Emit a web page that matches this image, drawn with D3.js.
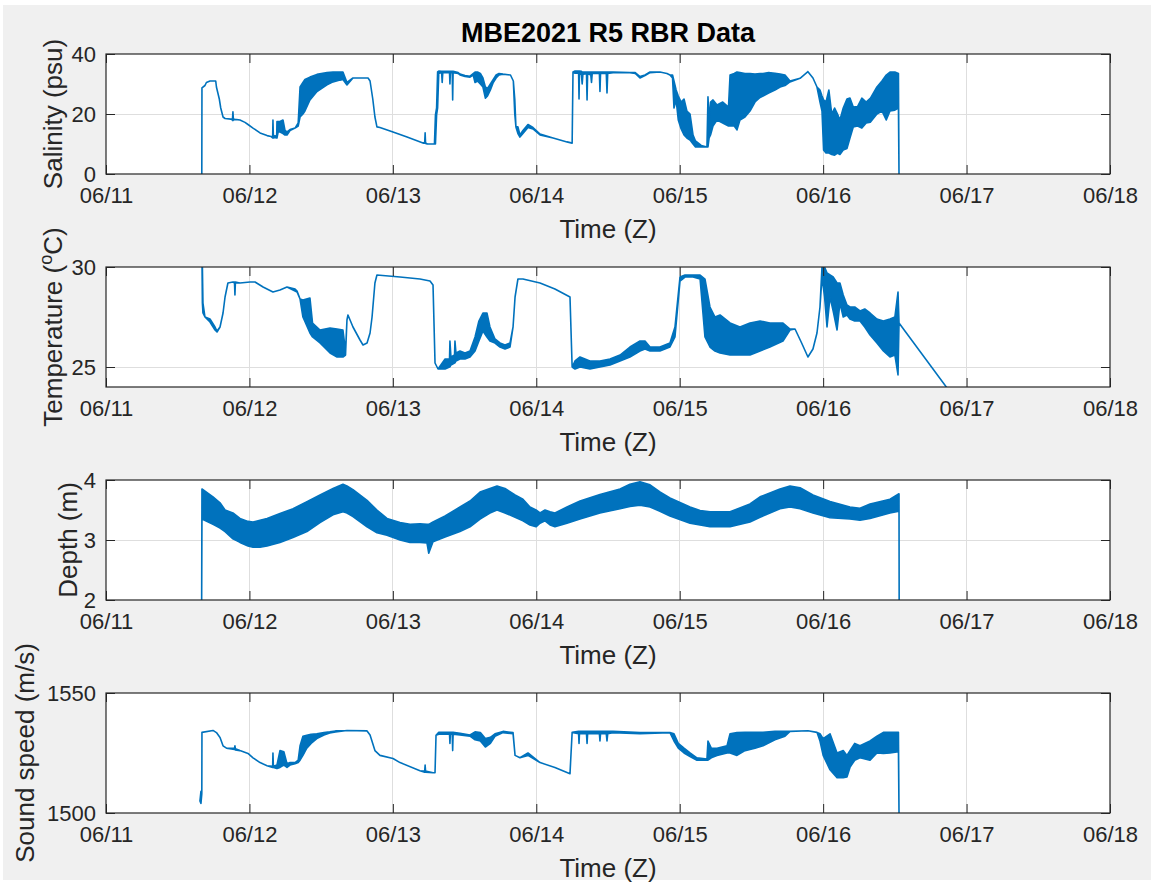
<!DOCTYPE html>
<html>
<head>
<meta charset="utf-8">
<script src="https://cdn.jsdelivr.net/npm/d3@7"></script>
<style>
  body { margin: 0; background: #fff; }
  svg { display: block; }
  text { font-family: "Liberation Sans", Arial, Helvetica, sans-serif; }
</style>
</head>
<body>
<svg id="fig" width="1151" height="882"></svg>
<script>
// Each record: [days after 2021-06-11 00:00 Z, min reading, max reading] over that interval
const salinity = [
  [0.668,0,0],[0.669,28.7,28.7],[0.690,29.5,29.5],[0.700,30.5,30.5],[0.725,31,31],[0.765,31,31],
  [0.770,29,29],[0.780,27,27],[0.790,25,25],[0.800,22,22],[0.816,19,19],[0.830,18.5,18.5],
  [0.870,18.3,18.3],[0.882,18,18.3],[0.885,17.8,20.7],[0.888,18,18.3],[0.900,18.2,18.2],[0.934,18,18],
  [0.969,17.2,17.2],[0.990,16.5,16.5],[1.025,15.3,15.3],[1.074,13.7,13.7],[1.123,12.8,12.8],
  [1.150,12.5,12.5],[1.162,12,12.5],[1.164,12,18],[1.167,12,12.5],[1.178,12.2,12.8],[1.190,12,12.5],
  [1.192,12,17.5],[1.200,14,17.5],[1.213,14,17.5],[1.234,13.5,18],[1.248,13,14.5],[1.262,13,14],
  [1.283,14.5,14.8],[1.318,15.3,15.3],[1.340,16,17],[1.353,19,29],[1.373,20,30.5],[1.387,21,31.5],
  [1.422,24.7,32.3],[1.471,27.5,33.2],[1.541,29.7,33.8],[1.583,30.7,34],[1.631,31.3,34],
  [1.652,31.5,34],[1.680,29.7,30.5],[1.722,32,32],[1.827,32,32],[1.841,31,31],[1.860,25,25],
  [1.875,19,19],[1.889,15.7,15.7],[1.910,15.5,15.5],[2.001,14,14],[2.099,12.3,12.3],[2.210,10.3,10.3],
  [2.222,10.3,10.5],[2.225,10.3,13.7],[2.228,10.2,10.4],[2.240,10,10],[2.290,10,10],[2.297,10,19.7],
  [2.305,19.7,22],[2.312,22,34],[2.320,33.5,34.3],[2.340,33.8,34.2],[2.344,30.5,34.2],[2.348,33.8,34.2],
  [2.395,33.8,34.2],[2.398,30,34.2],[2.401,33.8,34.2],[2.414,33.8,34.2],[2.417,24.7,34.2],
  [2.420,33.8,34.2],[2.455,33.5,33.8],[2.468,33,33.3],[2.503,32.5,32.8],[2.538,32.3,32.6],
  [2.560,33,33.5],[2.573,30.5,34],[2.590,31,34],[2.610,30,33.5],[2.628,29,32],[2.645,25.3,29],
  [2.660,26,28.5],[2.680,28,30],[2.700,30.5,31.5],[2.720,32,33],[2.740,33,33.5],[2.768,33.3,33.3],
  [2.820,33,33],[2.840,31,31],[2.850,20,25],[2.858,15.7,15.7],[2.872,13.5,15.7],[2.886,12.3,13],
  [2.907,13.5,14.5],[2.942,15.5,16.5],[2.977,15,15.5],[3.026,13,13.3],[3.117,12,12],[3.214,10.7,10.7],
  [3.250,10.3,10.3],[3.256,34,34],[3.270,33.6,34.3],[3.295,33.6,34.3],[3.298,25,34.3],[3.301,33.6,34.3],
  [3.315,33,34.2],[3.320,30,34],[3.325,33.2,34],[3.350,33.5,34],[3.354,24.7,34],[3.358,33.5,34],
  [3.380,33,34],[3.385,30.5,34],[3.390,33.5,34],[3.440,33.5,34],[3.444,27.5,34],[3.448,33.5,34],
  [3.488,33.5,34],[3.493,27,34],[3.498,33.5,34],[3.535,33.8,34],[3.653,33.8,33.8],[3.690,33.5,33.8],
  [3.723,32,32.5],[3.758,32.8,33],[3.793,33.8,34],[3.862,34,34],[3.911,33.5,33.5],[3.932,33,33],
  [3.950,32,33],[3.960,22,31],[3.975,24.7,28],[3.990,18,26],[4.010,15,24],[4.030,13,25],[4.050,12,21],
  [4.072,11.3,20],[4.093,10,13],[4.110,9,11],[4.150,9,9.5],[4.190,9,9],[4.197,9,25.7],[4.205,12,18],
  [4.215,13,24],[4.232,16,24.7],[4.260,18,23],[4.300,17,24],[4.340,16,22.3],[4.351,16,33],
  [4.380,16,33.5],[4.399,14.7,34],[4.420,18,33.8],[4.455,19,33.5],[4.490,21,33.5],[4.525,24,33.3],
  [4.560,25.5,33.5],[4.581,26,33.5],[4.620,27,33.8],[4.664,28,33.6],[4.700,29,33.3],[4.734,29.5,33],
  [4.769,30.7,31],[4.839,31.9,31.9],[4.894,34.1,34.1],[4.929,32,32],[4.957,29,29],[4.978,24,28],
  [4.992,21,26],[5.003,8,24.7],[5.020,7,24],[5.040,7,28],[5.060,6.5,20],[5.080,6.3,22],[5.100,7,20],
  [5.117,6.5,18],[5.140,8,22],[5.166,8.5,25],[5.187,12,25.3],[5.210,15.7,22.3],[5.240,16,22.5],
  [5.270,15.3,25.3],[5.300,17,24],[5.330,17.3,25.3],[5.375,20,29],[5.410,21,31],[5.440,18,33],
  [5.466,21,34],[5.500,21.3,34],[5.525,22,33.5],[5.529,0,0]
];

const temperature = [
  [0.668,31,31],[0.669,30.5,30.5],[0.672,28.2,30],[0.676,27.7,28.2],[0.690,27.5,27.5],[0.725,27.25,27.4],
  [0.760,26.85,27],[0.774,26.75,26.8],[0.795,27,27],[0.816,27.7,27.7],[0.830,28.5,28.5],[0.850,29.2,29.2],
  [0.885,29.25,29.25],[0.896,29.2,29.25],[0.899,28.6,29.2],[0.902,29.2,29.25],[0.934,29.2,29.2],
  [1.004,29.25,29.25],[1.039,29.25,29.25],[1.095,29.0,29.0],[1.164,28.75,28.75],[1.213,28.85,28.85],
  [1.262,29.0,29.0],[1.318,28.8,28.9],[1.332,28.75,28.8],[1.353,28.4,28.4],[1.373,27.5,28.35],
  [1.422,26.7,28.45],[1.440,26.5,27.2],[1.492,26.2,26.85],[1.562,25.7,26.95],[1.611,25.5,26.9],
  [1.652,25.5,26.85],[1.670,25.6,25.8],[1.680,27.35,27.35],[1.687,27.6,27.6],[1.722,27,27],
  [1.771,26.35,26.35],[1.792,26.1,26.1],[1.820,26.2,26.2],[1.841,26.7,26.7],[1.855,27.5,27.5],
  [1.875,29.2,29.2],[1.889,29.6,29.6],[2.050,29.5,29.5],[2.189,29.4,29.4],[2.259,29.3,29.3],
  [2.280,29.1,29.1],[2.294,25.2,25.2],[2.315,24.9,24.9],[2.364,24.9,25.4],[2.395,25,25.4],
  [2.398,25,26.3],[2.405,25.1,25.5],[2.430,25.2,25.6],[2.433,25.2,26.3],[2.440,25.3,25.7],
  [2.468,25.4,25.8],[2.503,25.4,25.7],[2.538,25.5,25.8],[2.573,25.8,26.5],[2.600,26.3,27.3],
  [2.628,26.8,27.7],[2.656,26.5,27.7],[2.677,26.3,27.0],[2.712,26.2,26.4],[2.747,26.0,26.2],
  [2.782,25.9,26.1],[2.817,26.0,26.2],[2.838,27,27],[2.852,28.5,28.5],[2.872,29.4,29.4],
  [2.907,29.4,29.4],[3.026,29.2,29.2],[3.130,28.9,28.9],[3.235,28.5,28.5],[3.250,25.0,25.0],
  [3.270,24.9,25.3],[3.305,25.0,25.5],[3.374,24.9,25.3],[3.444,25.0,25.3],[3.514,25.1,25.4],
  [3.584,25.3,25.6],[3.653,25.5,26.0],[3.723,25.8,26.3],[3.758,25.9,26.3],[3.793,25.8,26.0],
  [3.862,25.8,26.0],[3.932,26.0,26.2],[3.967,26.5,27],[4.002,29.3,29.5],[4.037,29.5,29.6],
  [4.093,29.5,29.6],[4.142,29.4,29.6],[4.176,26.5,29.4],[4.211,26,28],[4.246,25.8,27.5],
  [4.281,25.7,27.6],[4.351,25.6,27.2],[4.420,25.6,27],[4.490,25.6,27.2],[4.560,25.8,27.3],
  [4.629,26.0,27.2],[4.720,26.3,27.2],[4.769,26.85,26.9],[4.804,26.9,26.9],[4.850,26.2,26.2],
  [4.894,25.5,25.5],[4.929,25.9,25.9],[4.957,26.7,26.7],[4.978,28,28],[4.992,29.5,30],[5.010,28.5,30],
  [5.027,27,29.7],[5.048,28.5,29.6],[5.070,27.8,29.5],[5.097,26.85,29.2],[5.117,28.2,29.2],
  [5.140,27.5,28.6],[5.166,27.6,28.1],[5.187,27.4,28.0],[5.220,27.3,28],[5.257,27.3,27.8],
  [5.290,27,27.9],[5.327,26.6,27.7],[5.375,26.2,27.4],[5.420,25.8,27.3],[5.466,25.5,27.4],
  [5.500,25.6,27.5],[5.522,24.6,28.75],[5.529,27.2,27.2],[5.900,23.6,23.6]
];

const depth = [
  [0.667,2.0,2.0],[0.669,3.35,3.85],[0.746,3.26,3.72],[0.795,3.2,3.62],[0.830,3.14,3.5],
  [0.885,3.02,3.45],[0.934,2.96,3.36],[0.990,2.9,3.31],[1.025,2.88,3.30],[1.074,2.88,3.33],
  [1.123,2.9,3.36],[1.213,2.96,3.44],[1.304,3.04,3.52],[1.401,3.14,3.64],[1.492,3.29,3.75],
  [1.583,3.42,3.86],[1.652,3.47,3.93],[1.680,3.45,3.9],[1.722,3.39,3.84],[1.820,3.22,3.66],
  [1.889,3.12,3.5],[1.959,3.08,3.36],[2.050,3.0,3.29],[2.120,2.96,3.26],[2.189,2.96,3.27],
  [2.238,2.95,3.26],[2.250,2.78,3.26],[2.280,2.97,3.3],[2.364,3.05,3.4],[2.468,3.14,3.55],
  [2.538,3.22,3.65],[2.608,3.35,3.8],[2.677,3.45,3.86],[2.726,3.5,3.9],[2.782,3.45,3.86],
  [2.852,3.38,3.75],[2.907,3.32,3.68],[2.956,3.25,3.55],[2.998,3.22,3.5],[3.026,3.28,3.45],
  [3.061,3.32,3.5],[3.096,3.25,3.47],[3.130,3.22,3.45],[3.214,3.28,3.55],[3.305,3.35,3.65],
  [3.444,3.45,3.76],[3.584,3.52,3.85],[3.653,3.56,3.93],[3.723,3.58,3.97],[3.793,3.55,3.92],
  [3.862,3.48,3.8],[3.932,3.4,3.7],[4.072,3.28,3.55],[4.142,3.25,3.49],[4.211,3.22,3.47],
  [4.351,3.22,3.47],[4.490,3.3,3.6],[4.560,3.38,3.72],[4.699,3.52,3.85],[4.769,3.55,3.9],
  [4.839,3.52,3.87],[4.929,3.45,3.75],[5.048,3.37,3.64],[5.187,3.35,3.55],[5.257,3.33,3.53],
  [5.327,3.36,3.6],[5.466,3.45,3.68],[5.529,3.48,3.77],[5.530,2.0,2.0]
];

const soundSpeed = [
  [0.655,1505,1505],[0.662,1504,1509],[0.668,1508,1508],[0.669,1533.6,1533.6],[0.746,1534.4,1534.4],
  [0.770,1533.5,1533.5],[0.795,1531.5,1531.5],[0.816,1528,1528],[0.840,1527,1527],[0.896,1526.5,1527],
  [0.899,1526.5,1528],[0.902,1526.3,1526.8],[0.934,1526,1526],[0.990,1524.8,1524.8],[1.025,1523,1523],
  [1.074,1521,1521],[1.123,1519.7,1519.7],[1.162,1519,1519.5],[1.164,1519,1525],[1.167,1519,1519.5],
  [1.192,1518.5,1520],[1.213,1519,1526],[1.240,1520,1525.5],[1.262,1519,1520.5],[1.283,1520,1521],
  [1.318,1520.5,1521],[1.340,1521,1522],[1.353,1522,1528],[1.373,1524,1532],[1.400,1527,1532.4],
  [1.430,1529,1532.8],[1.470,1531,1533],[1.520,1532.5,1533.5],[1.560,1533.3,1533.8],
  [1.600,1533.8,1534.2],[1.680,1534.4,1534.4],[1.820,1534.2,1534.2],[1.841,1532.5,1532.5],
  [1.875,1526,1526],[1.910,1524,1524],[2.001,1522.7,1522.7],[2.050,1521.0,1521.0],[2.189,1517.6,1517.6],
  [2.222,1517,1517.5],[2.225,1517,1520],[2.228,1517,1517.5],[2.280,1516.8,1516.8],[2.294,1516.8,1516.8],
  [2.301,1532.4,1532.4],[2.320,1532.8,1533.6],[2.395,1532.8,1533.6],[2.398,1529,1533.6],
  [2.401,1532.8,1533.6],[2.414,1532.8,1533.6],[2.417,1526,1533.6],[2.420,1532.8,1533.6],
  [2.468,1532.5,1533.2],[2.538,1532,1532.5],[2.573,1530.5,1533.8],[2.610,1530,1533.5],
  [2.645,1527.5,1531],[2.680,1529,1531.5],[2.712,1532,1533],[2.768,1533.5,1534],[2.838,1533,1533.5],
  [2.852,1524,1524],[2.886,1523,1523],[2.942,1524,1525],[3.026,1521,1521],[3.130,1519,1519],
  [3.235,1516.4,1516.4],[3.250,1533.6,1533.6],[3.295,1533,1534],[3.298,1529,1534],[3.301,1533,1534],
  [3.350,1533,1534],[3.354,1529,1534],[3.358,1533,1534],[3.440,1533,1534],[3.444,1530,1534],
  [3.448,1533,1534],[3.488,1533,1534],[3.493,1530,1534],[3.498,1533,1534],[3.535,1533.5,1534],
  [3.723,1533,1533.5],[3.932,1533.5,1533.5],[3.960,1530,1533],[3.990,1527,1529],[4.030,1525,1527],
  [4.072,1523.5,1525],[4.120,1522,1523],[4.190,1522,1522.5],[4.197,1522,1530],[4.220,1523,1527],
  [4.260,1524,1527],[4.330,1525,1528],[4.351,1525,1533],[4.399,1524,1533.5],[4.455,1526,1533.6],
  [4.525,1527,1533.6],[4.581,1528,1533.6],[4.664,1530.5,1534],[4.734,1532,1534],[4.769,1534,1534],
  [4.894,1534.3,1534.3],[4.957,1533.6,1533.6],[4.978,1530,1533],[5.000,1524,1531],[5.048,1518,1533],
  [5.097,1514.7,1525],[5.140,1514.7,1526],[5.166,1515,1524],[5.187,1519,1526],[5.220,1522,1529],
  [5.257,1523,1528],[5.327,1522,1530],[5.375,1525,1532],[5.420,1524.8,1533.6],[5.466,1525,1533.6],
  [5.525,1525.5,1533.6],[5.529,1500,1500]
];

const dayLabels = ["06/11","06/12","06/13","06/14","06/15","06/16","06/17","06/18"];
const salTicks = [0, 20, 40];
const tempTicks = [25, 30];
const depthTicks = [2, 3, 4];
const soundTicks = [1500, 1550];

const panels = [
  { data: salinity,    domain: [0, 40],      ticks: salTicks,   label: ["Salinity (psu)"] },
  { data: temperature, domain: [24, 30],     ticks: tempTicks,  label: ["Temperature (", "o", "C)"] },
  { data: depth,       domain: [2, 4],       ticks: depthTicks, label: ["Depth (m)"] },
  { data: soundSpeed,  domain: [1500, 1550], ticks: soundTicks, label: ["Sound speed (m/s)"] }
];

// ---- layout ----
const W = 1151, H = 882;
const left = 106, right = 1110, plotH = 120;
const tops = [54, 267, 480, 693];
const ylabelX = [62, 62, 76.5, 33.5];
const ink = "#262626", lineColor = "#0072BD", gridColor = "#dedede";
const tickFont = 22, labelFont = 26;

const svg = d3.select("#fig");
svg.append("rect").attr("width", W).attr("height", H).attr("fill", "#ffffff");
svg.append("rect").attr("x", 3).attr("y", 5).attr("width", W - 3).attr("height", H - 7).attr("fill", "#f0f0f0");

const t0 = Date.UTC(2021, 5, 11);
const toDate = d => new Date(t0 + d * 864e5);
const x = d3.scaleUtc().domain([toDate(0), toDate(7)]).range([left, right]);
const dayTicks = dayLabels.map((_, i) => toDate(i));

const defs = svg.append("defs");

panels.forEach((p, i) => {
  const top = tops[i], bottom = top + plotH;
  const y = d3.scaleLinear().domain(p.domain).range([bottom, top]);
  const g = svg.append("g");

  g.append("rect").attr("x", left).attr("y", top).attr("width", right - left).attr("height", plotH)
    .attr("fill", "#ffffff");

  // grid
  g.append("g").selectAll("line").data(dayTicks.slice(1, -1)).join("line")
    .attr("x1", d => x(d)).attr("x2", d => x(d)).attr("y1", top).attr("y2", bottom)
    .attr("stroke", gridColor).attr("stroke-width", 1).attr("shape-rendering", "crispEdges");
  g.append("g").selectAll("line").data(p.ticks.filter(v => v > p.domain[0] && v < p.domain[1])).join("line")
    .attr("x1", left).attr("x2", right).attr("y1", d => y(d)).attr("y2", d => y(d))
    .attr("stroke", gridColor).attr("stroke-width", 1).attr("shape-rendering", "crispEdges");

  // data trace, drawn as min/max envelope
  defs.append("clipPath").attr("id", "clip" + i).append("rect")
    .attr("x", left).attr("y", top).attr("width", right - left).attr("height", plotH);
  const area = d3.area()
    .x(d => x(toDate(d[0])))
    .y0(d => y(d[1]))
    .y1(d => y(d[2]));
  g.append("path").datum(p.data).attr("d", area).attr("clip-path", `url(#clip${i})`)
    .attr("fill", lineColor).attr("stroke", lineColor).attr("stroke-width", 1.6)
    .attr("stroke-linejoin", "round");

  // axes
  const styleAxis = sel => {
    sel.select(".domain").remove();
    sel.selectAll(".tick line").attr("stroke", ink).attr("stroke-width", 1);
    sel.selectAll(".tick text").attr("fill", ink).attr("font-size", tickFont)
      .attr("font-family", '"Liberation Sans", Arial, Helvetica, sans-serif');
  };
  g.append("g").attr("transform", `translate(0,${bottom})`)
    .call(d3.axisBottom(x).tickValues(dayTicks).tickFormat((d, k) => dayLabels[k])
      .tickSizeInner(-9).tickSizeOuter(0).tickPadding(13.5))
    .call(styleAxis);
  g.append("g").attr("transform", `translate(0,${top})`)
    .call(d3.axisTop(x).tickValues(dayTicks).tickFormat("").tickSizeInner(-9).tickSizeOuter(0))
    .call(styleAxis);
  g.append("g").attr("transform", `translate(${left},0)`)
    .call(d3.axisLeft(y).tickValues(p.ticks).tickFormat(d3.format("d"))
      .tickSizeInner(-9).tickSizeOuter(0).tickPadding(10))
    .call(styleAxis);
  g.append("g").attr("transform", `translate(${right},0)`)
    .call(d3.axisRight(y).tickValues(p.ticks).tickFormat("").tickSizeInner(-9).tickSizeOuter(0))
    .call(styleAxis);

  // box
  g.append("rect").attr("x", left).attr("y", top).attr("width", right - left).attr("height", plotH)
    .attr("fill", "none").attr("stroke", ink).attr("stroke-width", 1.2);

  // labels
  g.append("text").attr("x", (left + right) / 2).attr("y", bottom + 64)
    .attr("text-anchor", "middle").attr("font-size", labelFont).attr("fill", ink).text("Time (Z)");

  const yl = g.append("text")
    .attr("transform", `translate(${ylabelX[i]},${(top + bottom) / 2}) rotate(-90)`)
    .attr("text-anchor", "middle").attr("font-size", labelFont).attr("fill", ink);
  if (p.label.length === 1) {
    yl.text(p.label[0]);
  } else {
    yl.append("tspan").text(p.label[0]);
    yl.append("tspan").attr("font-size", labelFont * 0.7).attr("dy", -10).text(p.label[1]);
    yl.append("tspan").attr("dy", 10).text(p.label[2]);
  }
});

svg.append("text").attr("x", (left + right) / 2).attr("y", 42).attr("text-anchor", "middle")
  .attr("font-size", 27).attr("font-weight", "bold").attr("fill", "#000").text("MBE2021 R5 RBR Data");
</script>
</body>
</html>
